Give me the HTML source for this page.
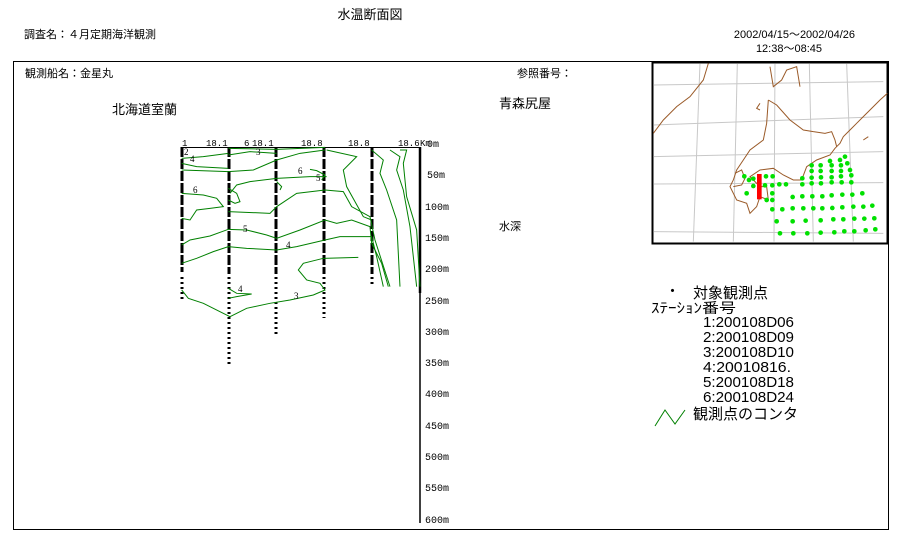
<!DOCTYPE html>
<html><head><meta charset="utf-8"><style>
html,body{margin:0;padding:0;background:#fff;}
svg{display:block;font-family:"Liberation Sans","Noto Sans CJK JP",sans-serif;}
</style></head><body>
<svg width="897" height="553" viewBox="0 0 897 553" xmlns="http://www.w3.org/2000/svg">
<rect width="897" height="553" fill="#fff"/>
<text x="370" y="19" font-size="13" text-anchor="middle">水温断面図</text>
<text x="24" y="38" font-size="11">調査名：４月定期海洋観測</text>
<text x="855" y="38" font-size="11" text-anchor="end">2002/04/15～2002/04/26</text>
<text x="822" y="52" font-size="11" text-anchor="end">12:38～08:45</text>
<rect x="13.5" y="61.5" width="875" height="468" fill="none" stroke="#000" stroke-width="1"/>
<text x="25" y="77" font-size="11">観測船名：金星丸</text>
<text x="517" y="77" font-size="11">参照番号：</text>
<text x="112" y="114" font-size="13">北海道室蘭</text>
<text x="499" y="108" font-size="13">青森尻屋</text>
<text x="499" y="230" font-size="11">水深</text>

<!-- map -->
<rect x="652.5" y="62.5" width="235" height="181" fill="#fff" stroke="#000" stroke-width="2"/>
<g transform="translate(650,60) scale(0.3333)">
<g stroke="#c8c8c8" stroke-width="3" fill="none">
<path d="M10 195 L700 170"/><path d="M10 290 L700 275"/><path d="M10 372 L700 368"/><path d="M10 515 L700 520"/><path d="M10 75 L700 65"/>
<path d="M150 10 L130 545"/><path d="M262 10 L250 545"/><path d="M375 10 L372 545"/><path d="M478 10 L490 545"/><path d="M590 10 L610 545"/>
</g>
<g stroke="#9a5a28" stroke-width="3" fill="none">
<path d="M175 10 L160 60 L120 110 L80 140 L40 180 L10 220"/>
<path d="M360 20 L370 80 L395 60 L410 30 L440 20 L450 80"/>
<path d="M330 130 L320 145 L330 150"/>
<path d="M355 120 L350 190 L340 240 L300 270 L280 300 L260 330 L250 360 L240 380 L260 420 L290 430 L300 460 L320 440 L330 410 L355 420 L350 380 L330 380 L300 350 L330 330 L370 325 L400 345 L430 360 L455 360 L470 320 L500 300 L540 285 L555 265 L570 250 L580 230 L600 210 L620 190 L640 170 L660 150 L690 120 L712 100"/>
<path d="M355 120 L380 135 L420 180 L460 210 L490 215 L525 220 L545 215 L555 240 L560 260"/>
<path d="M255 340 L275 330 L285 355 L275 375 L250 380"/>
<path d="M640 240 L655 230"/>
</g>
<g fill="#00e000">
<circle cx="540" cy="303" r="7"/><circle cx="570" cy="300" r="7"/><circle cx="585" cy="290" r="7"/><circle cx="592" cy="310" r="7"/>
<circle cx="485" cy="316" r="7"/><circle cx="512" cy="316" r="7"/><circle cx="545" cy="316" r="7"/><circle cx="573" cy="316" r="7"/>
<circle cx="485" cy="333" r="7"/><circle cx="512" cy="333" r="7"/><circle cx="545" cy="333" r="7"/><circle cx="573" cy="333" r="7"/><circle cx="600" cy="330" r="7"/>
<circle cx="283" cy="349" r="7"/><circle cx="297" cy="360" r="7"/><circle cx="310" cy="356" r="7"/><circle cx="348" cy="349" r="7"/><circle cx="368" cy="349" r="7"/><circle cx="457" cy="355" r="7"/><circle cx="485" cy="353" r="7"/><circle cx="513" cy="352" r="7"/><circle cx="545" cy="352" r="7"/><circle cx="573" cy="349" r="7"/><circle cx="604" cy="346" r="7"/>
<circle cx="310" cy="378" r="7"/><circle cx="345" cy="376" r="7"/><circle cx="367" cy="376" r="7"/><circle cx="388" cy="373" r="7"/><circle cx="408" cy="373" r="7"/><circle cx="457" cy="373" r="7"/><circle cx="485" cy="370" r="7"/><circle cx="513" cy="370" r="7"/><circle cx="545" cy="367" r="7"/><circle cx="575" cy="367" r="7"/><circle cx="604" cy="367" r="7"/>
<circle cx="290" cy="400" r="7"/><circle cx="367" cy="400" r="7"/><circle cx="428" cy="411" r="7"/><circle cx="457" cy="409" r="7"/><circle cx="487" cy="409" r="7"/><circle cx="517" cy="409" r="7"/><circle cx="545" cy="406" r="7"/><circle cx="577" cy="404" r="7"/><circle cx="607" cy="404" r="7"/><circle cx="637" cy="400" r="7"/>
<circle cx="350" cy="420" r="7"/><circle cx="367" cy="420" r="7"/>
<circle cx="367" cy="448" r="7"/><circle cx="397" cy="448" r="7"/><circle cx="428" cy="445" r="7"/><circle cx="460" cy="445" r="7"/><circle cx="490" cy="445" r="7"/><circle cx="517" cy="445" r="7"/><circle cx="547" cy="444" r="7"/><circle cx="577" cy="442" r="7"/><circle cx="610" cy="440" r="7"/><circle cx="640" cy="440" r="7"/><circle cx="667" cy="437" r="7"/>
<circle cx="380" cy="484" r="7"/><circle cx="428" cy="484" r="7"/><circle cx="467" cy="482" r="7"/><circle cx="512" cy="481" r="7"/><circle cx="550" cy="478" r="7"/><circle cx="580" cy="478" r="7"/><circle cx="613" cy="476" r="7"/><circle cx="643" cy="476" r="7"/><circle cx="673" cy="475" r="7"/>
<circle cx="390" cy="520" r="7"/><circle cx="430" cy="520" r="7"/><circle cx="472" cy="520" r="7"/><circle cx="512" cy="518" r="7"/><circle cx="553" cy="517" r="7"/><circle cx="583" cy="514" r="7"/><circle cx="613" cy="514" r="7"/><circle cx="647" cy="511" r="7"/><circle cx="676" cy="508" r="7"/>
</g>
<rect x="321" y="342" width="14" height="76" fill="#ff0000"/>
</g>

<!-- section plot -->
<g font-size="9" font-family="Liberation Mono, monospace">
<text x="182" y="146">1</text><text x="206" y="146">18.1</text><text x="244" y="146">6</text><text x="252" y="146">18.1</text><text x="301" y="146">18.8</text><text x="348" y="146">18.8</text><text x="398" y="146">18.6</text><text x="420" y="146">Km</text>
</g>
<line x1="182" y1="147.5" x2="420" y2="147.5" stroke="#000" stroke-width="1"/>
<g font-size="10" font-family="Liberation Mono, monospace" text-anchor="start">
<text x="427" y="147">0m</text><text x="427" y="178">50m</text><text x="425" y="210">100m</text><text x="425" y="241">150m</text><text x="425" y="272">200m</text><text x="425" y="304">250m</text><text x="425" y="335">300m</text><text x="425" y="366">350m</text><text x="425" y="397">400m</text><text x="425" y="429">450m</text><text x="425" y="460">500m</text><text x="425" y="491">550m</text><text x="425" y="523">600m</text>
</g>
<line x1="420" y1="147" x2="420" y2="293" stroke="#000" stroke-width="2.5"/>
<line x1="420" y1="293" x2="420" y2="523" stroke="#000" stroke-width="1.5"/>
<g stroke="#000" stroke-width="3" fill="none">
<line x1="182" y1="147" x2="182" y2="272" stroke-dasharray="10,2"/>
<line x1="229" y1="147" x2="229" y2="274" stroke-dasharray="10,2"/>
<line x1="276" y1="147" x2="276" y2="274" stroke-dasharray="10,2"/>
<line x1="324" y1="147" x2="324" y2="274" stroke-dasharray="10,2"/>
<line x1="372" y1="147" x2="372" y2="274" stroke-dasharray="10,2"/>
<line x1="182" y1="277" x2="182" y2="299" stroke-dasharray="2,3"/>
<line x1="229" y1="277" x2="229" y2="367" stroke-dasharray="2,3"/>
<line x1="276" y1="277" x2="276" y2="335" stroke-dasharray="2,3"/>
<line x1="324" y1="277" x2="324" y2="318" stroke-dasharray="2,3"/>
<line x1="372" y1="277" x2="372" y2="286" stroke-dasharray="2,3"/>
</g>
<g transform="translate(170,130) scale(0.3333)" stroke="#008000" stroke-width="3" fill="none">
<polyline points="35,480 55,505 100,520 150,545 180,560 230,535 300,520 360,510 430,495 465,480 450,460 410,450 385,420 400,400 460,385 565,382"/>
<polyline points="35,400 80,385 130,365 175,350 230,355 320,360 380,350 465,330 510,320 605,320 620,380 640,470"/>
<polyline points="35,345 60,330 120,318 175,298 230,300 290,315 320,325 390,300 465,270 500,280 545,270 600,290 605,340 635,400 655,470"/>
<polyline points="35,190 100,195 140,205 160,230 120,235 80,240 60,270 35,265"/>
<polyline points="175,245 300,250 320,230 380,190 465,180 520,185 545,230 600,260 615,330 660,470"/>
<polyline points="175,175 200,190 210,215 195,220 175,210"/>
<polyline points="180,190 200,165 240,155 320,145 420,140 470,140"/>
<polyline points="470,60 560,80 520,120 530,170 580,260 605,270"/>
<polyline points="605,60 640,90 630,130 650,180 680,270 690,470"/>
<polyline points="660,60 690,80 680,120 700,180 720,290 740,470"/>
<polyline points="690,60 710,60 700,100 710,200 740,300 750,470"/>
<polyline points="35,85 100,80 175,70"/>
<polyline points="35,100 80,110 175,115"/>
<polyline points="175,55 320,58 465,52"/>
<polyline points="175,75 240,65 320,70"/>
<polyline points="35,120 175,125 250,120 320,90 390,70 465,60"/>
<polyline points="175,475 200,490 245,492 200,500 175,505"/>
<polyline points="320,155 335,170 330,180"/>
<polyline points="420,118 440,122 465,135 455,150"/>
</g>
<g font-size="9" font-family="Liberation Serif, serif">
<text x="190" y="162">4</text><text x="193" y="193">6</text><text x="256" y="155">3</text><text x="298" y="174">6</text><text x="316" y="181">5</text><text x="243" y="232">5</text><text x="286" y="248">4</text><text x="238" y="292">4</text><text x="294" y="299">3</text><text x="184" y="155">2</text>
</g>

<!-- legend -->
<text x="665" y="296" font-size="15">・</text>
<text x="693" y="298" font-size="15">対象観測点</text>
<text x="651" y="313" font-size="14" textLength="85" lengthAdjust="spacingAndGlyphs">ｽﾃｰｼｮﾝ番号</text>
<g font-size="15">
<text x="703" y="327" textLength="91" lengthAdjust="spacingAndGlyphs">1:200108D06</text>
<text x="703" y="342" textLength="91" lengthAdjust="spacingAndGlyphs">2:200108D09</text>
<text x="703" y="357" textLength="91" lengthAdjust="spacingAndGlyphs">3:200108D10</text>
<text x="703" y="372" textLength="88" lengthAdjust="spacingAndGlyphs">4:20010816.</text>
<text x="703" y="387" textLength="91" lengthAdjust="spacingAndGlyphs">5:200108D18</text>
<text x="703" y="402" textLength="91" lengthAdjust="spacingAndGlyphs">6:200108D24</text>
</g>
<polyline points="655,426 665,410 675,424 685,410" stroke="#008000" stroke-width="1" fill="none"/>
<text x="693" y="419" font-size="15">観測点のコンタ</text>
</svg>
</body></html>
